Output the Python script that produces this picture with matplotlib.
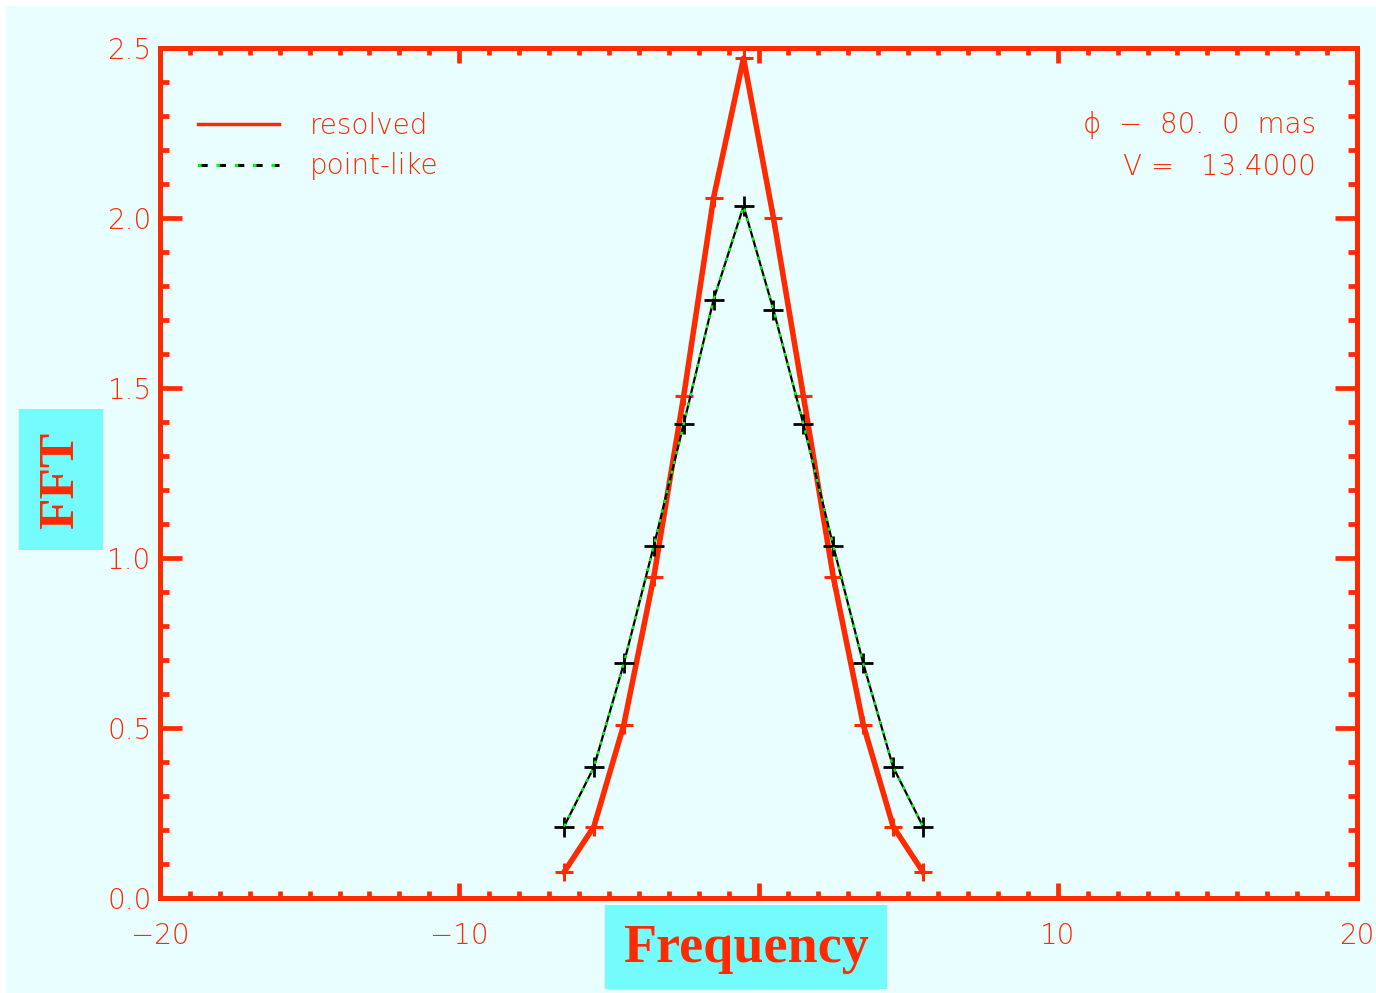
import matplotlib
matplotlib.use("Agg")
import matplotlib.pyplot as plt
from matplotlib.patches import Rectangle
from matplotlib.lines import Line2D
from matplotlib.ticker import MultipleLocator

# data
freq = [-6.5, -5.5, -4.5, -3.5, -2.5, -1.5, -0.5, 0.5, 1.5, 2.5, 3.5, 4.5, 5.5]
resolved = [0.076, 0.21, 0.51, 0.944, 1.476, 2.06, 2.47, 2.0, 1.476, 0.944, 0.51, 0.21, 0.076]
point_like = [0.21, 0.385, 0.69, 1.035, 1.394, 1.76, 2.035, 1.73, 1.394, 1.035, 0.69, 0.385, 0.21]

x_ticks = [-20, -10, 0, 10, 20]
x_labels = ["\u221220", "\u221210", "", "10", "20"]   # the 0 sits under the title box
y_ticks = [0.0, 0.5, 1.0, 1.5, 2.0, 2.5]
info_lines = ["\u03d5  \u2212  80.  0  mas", "V =   13.4000"]

RED = "#ff2a00"
BG = "#e9ffff"
BOX = "#74fcfc"
GREEN = "#00ff00"

W, H = 1376, 993
fig = plt.figure(figsize=(W / 100, H / 100), dpi=100, facecolor="white")

# light cyan canvas with thin white margin top/left
fig.patches.append(Rectangle((6 / W, 0), 1, (H - 6) / H, transform=fig.transFigure,
                             facecolor=BG, edgecolor="none", zorder=-5))

ax = fig.add_axes([160 / W, (H - 898) / H, (1357 - 160) / W, (898 - 48) / H])
ax.set_facecolor(BG)

# resolved: thick red line with red crosses
ax.plot(freq, resolved, color=RED, lw=4, marker="+", ms=13, mew=2.2, mec=RED, zorder=3)

# point-like: thin black line, green dashes on top, black crosses
ax.plot(freq, point_like, color="black", lw=1.6, marker="+", ms=14, mew=2, mec="black", zorder=4)
ax.plot(freq, point_like, color=GREEN, lw=1.6, dashes=(1.5, 3), zorder=5)

ax.set_xlim(-20, 20)
ax.set_ylim(0, 2.5)
ax.set_xticks(x_ticks)
ax.set_xticklabels(x_labels)
ax.set_yticks(y_ticks)
ax.set_yticklabels([f"{v:.1f}" for v in y_ticks])
ax.xaxis.set_minor_locator(MultipleLocator(1))
ax.yaxis.set_minor_locator(MultipleLocator(0.1))

for s in ax.spines.values():
    s.set_color(RED)
    s.set_linewidth(3.6)

ax.tick_params(axis="both", which="both", direction="in", color=RED, labelcolor=RED,
               top=True, right=True, width=3.4, labelsize=20)
ax.tick_params(axis="x", which="major", length=11, pad=17)
ax.tick_params(axis="x", which="minor", length=5)
ax.tick_params(axis="y", which="major", length=16, pad=6)
ax.tick_params(axis="y", which="minor", length=6.5)
for lbl in ax.get_xticklabels() + ax.get_yticklabels():
    lbl.set_fontweight("light")

# legend
h_res = Line2D([], [], color=RED, lw=2.5)
h_pt_black = Line2D([], [], color="black", lw=2.2, dashes=(3, 3))
h_pt_green = Line2D([], [], color=GREEN, lw=2.2, dashes=(1, 5))
leg = ax.legend([h_res, (h_pt_black, h_pt_green)], ["resolved", "point-like"],
                loc="upper left", bbox_to_anchor=(0.032, 0.925), frameon=False,
                borderpad=0, borderaxespad=0, handlelength=2.9, handletextpad=1.1,
                labelspacing=0.45, prop={"size": 20, "weight": "light"})
for t in leg.get_texts():
    t.set_color(RED)

ax.text(0.966, 0.909, info_lines[0], transform=ax.transAxes, ha="right", va="center",
        color=RED, fontsize=20, fontweight="light")
ax.text(0.966, 0.860, info_lines[1], transform=ax.transAxes, ha="right", va="center",
        color=RED, fontsize=20, fontweight="light")

# axis titles in cyan boxes
fig.patches.append(Rectangle((19 / W, (H - 550) / H), 84 / W, 141 / H,
                             transform=fig.transFigure, facecolor=BOX, edgecolor="none"))
fig.text(61 / W, (H - 480) / H, "FFT", rotation=90, ha="center", va="center",
         color=RED, fontsize=37, fontweight="bold", family="Liberation Serif")

fig.patches.append(Rectangle((605 / W, (H - 989) / H), 282 / W, 84 / H,
                             transform=fig.transFigure, facecolor=BOX, edgecolor="none"))
fig.text(746 / W, (H - 949) / H, "Frequency", ha="center", va="center",
         color=RED, fontsize=39, fontweight="bold", family="Liberation Serif")

fig.savefig("out.png", dpi=100, facecolor=fig.get_facecolor())
